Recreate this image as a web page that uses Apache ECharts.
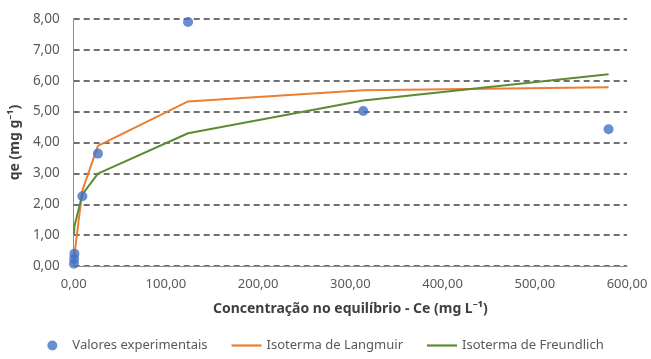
<!DOCTYPE html>
<html>
<head>
<meta charset="utf-8">
<script src="https://cdn.jsdelivr.net/npm/echarts@6/dist/echarts.min.js"></script>
<style>
html,body{margin:0;padding:0;background:#fff;}
#chart{width:651px;height:359px;}
</style>
</head>
<body>
<div id="chart"></div>
<script>
// Experimental data (Ce, qe)
const expCe = [0.3, 0.5, 0.8, 9.4, 26.3, 124, 314, 580];
const expQe = [0.07, 0.23, 0.40, 2.26, 3.64, 7.90, 5.02, 4.43];
// Model curves evaluated at the same Ce
const modelCe = [0.3, 0.5, 0.8, 9.4, 26.3, 124, 314, 580];
const langmuirQe = [0.14, 0.23, 0.35, 2.45, 3.89, 5.33, 5.69, 5.79];
const freundlichQe = [1.02, 1.16, 1.29, 2.32, 2.99, 4.30, 5.36, 6.21];
const legendNames = ['Valores experimentais', 'Isoterma de Langmuir', 'Isoterma de Freundlich'];

const FONT = '"Noto Sans", sans-serif';
const fmt = v => v.toFixed(2).replace('.', ',');
const pairs = (xs, ys) => xs.map((x, i) => [x, ys[i]]);
const lineIcon = 'path://M0,0H30V2.2H0Z';

const chart = echarts.init(document.getElementById('chart'));
chart.setOption({
  animation: false,
  textStyle: { fontFamily: FONT },
  grid: { left: 73, right: 24, top: 19, bottom: 93, containLabel: false },
  xAxis: {
    type: 'value', min: 0, max: 600, interval: 100,
    name: 'Concentração no equilíbrio - Ce (mg L⁻¹)',
    nameLocation: 'middle', nameGap: 36,
    nameTextStyle: { fontFamily: FONT, fontSize: 14, fontWeight: 'bold', color: '#404040' },
    axisLine: { show: true, lineStyle: { color: '#8c8c8c', width: 1 } },
    axisTick: { show: false },
    splitLine: { show: false },
    axisLabel: { formatter: fmt, fontFamily: FONT, fontSize: 13, color: '#595959', margin: 12 }
  },
  yAxis: {
    type: 'value', min: 0, max: 8, interval: 1,
    name: 'qe (mg g⁻¹)',
    nameLocation: 'middle', nameGap: 46,
    nameTextStyle: { fontFamily: FONT, fontSize: 14, fontWeight: 'bold', color: '#404040' },
    axisLine: { show: true, lineStyle: { color: '#8c8c8c', width: 1 } },
    axisTick: { show: false },
    splitLine: { show: true, lineStyle: { color: '#404040', width: 1.5, type: [6, 4] } },
    axisLabel: { formatter: fmt, fontFamily: FONT, fontSize: 13.5, color: '#595959', margin: 14 }
  },
  legend: {
    bottom: 2, left: 'center',
    itemWidth: 30, itemHeight: 10, itemGap: 24,
    textStyle: { fontFamily: FONT, fontSize: 13, color: '#595959' },
    data: [
      { name: legendNames[0], icon: 'circle' },
      { name: legendNames[1], icon: lineIcon },
      { name: legendNames[2], icon: lineIcon }
    ]
  },
  series: [
    {
      name: legendNames[1], type: 'line', symbol: 'none', z: 2,
      data: pairs(modelCe, langmuirQe),
      lineStyle: { color: '#ED7D31', width: 2 }, itemStyle: { color: '#ED7D31' }
    },
    {
      name: legendNames[2], type: 'line', symbol: 'none', z: 2,
      data: pairs(modelCe, freundlichQe),
      lineStyle: { color: '#5B8C32', width: 2 }, itemStyle: { color: '#5B8C32' }
    },
    {
      name: legendNames[0], type: 'scatter', symbol: 'circle', symbolSize: 10, z: 3,
      data: pairs(expCe, expQe),
      itemStyle: { color: '#4472C4' }
    }
  ]
});
</script>
</body>
</html>
